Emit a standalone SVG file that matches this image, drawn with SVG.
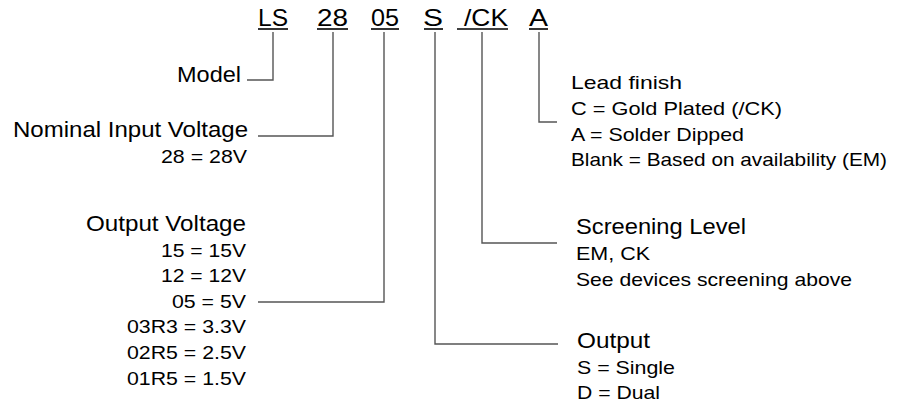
<svg xmlns="http://www.w3.org/2000/svg" width="897" height="407" viewBox="0 0 897 407">
<style>
text{font-family:"Liberation Sans",Arial,sans-serif;fill:#000}
.h{font-size:24.5px}
.b{font-size:22px}
.s{font-size:18.6px}
.ln{fill:none;stroke:#555;stroke-width:1.4}
.ul{stroke:#000;stroke-width:1.6}
</style>
<rect width="897" height="407" fill="#fff"/>
<g id="header">
<text class="h" x="258" y="26" textLength="30" lengthAdjust="spacingAndGlyphs">LS</text>
<text class="h" x="317" y="26" textLength="31" lengthAdjust="spacingAndGlyphs">28</text>
<text class="h" x="371" y="26" textLength="28" lengthAdjust="spacingAndGlyphs">05</text>
<text class="h" x="423" y="26" textLength="20" lengthAdjust="spacingAndGlyphs">S</text>
<text class="h" x="464" y="26" textLength="44" lengthAdjust="spacingAndGlyphs">/CK</text>
<text class="h" x="529" y="26" textLength="19" lengthAdjust="spacingAndGlyphs">A</text>
<line class="ul" x1="258" y1="29" x2="288" y2="29"/>
<line class="ul" x1="317" y1="29" x2="348" y2="29"/>
<line class="ul" x1="371" y1="29" x2="399" y2="29"/>
<line class="ul" x1="424" y1="29" x2="443" y2="29"/>
<line class="ul" x1="457" y1="29" x2="508" y2="29"/>
<line class="ul" x1="529" y1="29" x2="548" y2="29"/>
</g>
<g id="connectors">
<path class="ln" d="M273 32V80H247"/>
<path class="ln" d="M333 32V136H258"/>
<path class="ln" d="M384 32V302H258"/>
<path class="ln" d="M435 32V344H558"/>
<path class="ln" d="M482 32V243H557"/>
<path class="ln" d="M539 32V122H557"/>
</g>
<g id="model">
<text class="b" x="177" y="82" textLength="64" lengthAdjust="spacingAndGlyphs">Model</text>
</g>
<g id="nominal-input-voltage">
<text class="b" x="13" y="137" textLength="235" lengthAdjust="spacingAndGlyphs">Nominal Input Voltage</text>
<text class="s" x="161" y="163" textLength="86" lengthAdjust="spacingAndGlyphs">28 = 28V</text>
</g>
<g id="output-voltage">
<text class="b" x="86" y="231" textLength="160" lengthAdjust="spacingAndGlyphs">Output Voltage</text>
<text class="s" x="161" y="257" textLength="85" lengthAdjust="spacingAndGlyphs">15 = 15V</text>
<text class="s" x="161" y="282" textLength="85" lengthAdjust="spacingAndGlyphs">12 = 12V</text>
<text class="s" x="172" y="308" textLength="74" lengthAdjust="spacingAndGlyphs">05 = 5V</text>
<text class="s" x="127" y="333" textLength="119" lengthAdjust="spacingAndGlyphs">03R3 = 3.3V</text>
<text class="s" x="127" y="359" textLength="119" lengthAdjust="spacingAndGlyphs">02R5 = 2.5V</text>
<text class="s" x="127" y="385" textLength="119" lengthAdjust="spacingAndGlyphs">01R5 = 1.5V</text>
</g>
<g id="lead-finish">
<text class="s" x="571" y="89" textLength="111" lengthAdjust="spacingAndGlyphs">Lead finish</text>
<text class="s" x="571" y="115" textLength="211" lengthAdjust="spacingAndGlyphs">C = Gold Plated (/CK)</text>
<text class="s" x="571" y="141" textLength="173" lengthAdjust="spacingAndGlyphs">A = Solder Dipped</text>
<text class="s" x="571" y="166" textLength="316" lengthAdjust="spacingAndGlyphs">Blank = Based on availability (EM)</text>
</g>
<g id="screening-level">
<text class="b" x="576" y="234" textLength="170" lengthAdjust="spacingAndGlyphs">Screening Level</text>
<text class="s" x="576" y="260" textLength="74" lengthAdjust="spacingAndGlyphs">EM, CK</text>
<text class="s" x="576" y="286" textLength="276" lengthAdjust="spacingAndGlyphs">See devices screening above</text>
</g>
<g id="output">
<text class="b" x="577" y="348" textLength="73" lengthAdjust="spacingAndGlyphs">Output</text>
<text class="s" x="577" y="374" textLength="98" lengthAdjust="spacingAndGlyphs">S = Single</text>
<text class="s" x="577" y="399" textLength="83" lengthAdjust="spacingAndGlyphs">D = Dual</text>
</g>
</svg>
